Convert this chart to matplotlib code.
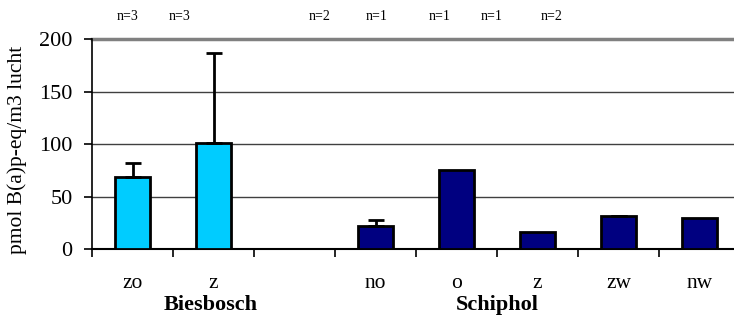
import matplotlib
matplotlib.use("Agg")
import matplotlib.pyplot as plt
import numpy as np

categories = ["zo", "z", "", "no", "o", "z", "zw", "nw"]
values = [69, 101, np.nan, 22, 75, 16, 31.5, 30]
err_up = [13, 86, np.nan, 5.5, 0, 0, 0.4, 0]
colors_by_group = ["#00CCFF", "#00CCFF", "#00CCFF", "#000080", "#000080", "#000080", "#000080", "#000080"]
groups = ["Biesbosch", "Schiphol"]
group_pos = [0.97, 4.5]
n_labels = ["n=3", "n=3", "n=2", "n=1", "n=1", "n=1", "n=2"]
n_xpix = [128, 180, 320, 377, 440, 492, 552]
yticks = [0, 50, 100, 150, 200]

plt.rcParams['font.family'] = ['Liberation Serif', 'DejaVu Serif']

W, H = 734, 324
fig = plt.figure(figsize=(W/100, H/100), dpi=100)
left = 92 / W
right = 740 / W
bottom = (H - 249) / H
top = (H - 39.5) / H
ax = fig.add_axes([left, bottom, right - left, top - bottom])

x = np.arange(len(categories))
vals = np.array(values, dtype=float)
errs = np.array(err_up, dtype=float)
mask = ~np.isnan(vals)
ax.bar(x[mask], vals[mask], width=0.42, color=[colors_by_group[i] for i in x[mask]],
       edgecolor="black", linewidth=2, zorder=3)
emask = mask & (errs > 0)
ax.errorbar(x[emask], vals[emask], yerr=[np.zeros(emask.sum()), errs[emask]],
            fmt="none", ecolor="black", elinewidth=2, capsize=6, capthick=2, zorder=4)

ax.set_xlim(-0.5, len(categories) - 0.5)
ax.set_ylim(0, 200)
ax.set_yticks(yticks)
for yv in yticks[1:-1]:
    ax.axhline(yv, color="#404040", linewidth=1, zorder=1)
ax.axhline(200, color="#808080", linewidth=2.5, zorder=1, clip_on=False)

for s in ["top", "right"]:
    ax.spines[s].set_visible(False)
ax.spines["left"].set_linewidth(1.2)
ax.spines["bottom"].set_linewidth(1.5)

ax.set_xticks(np.arange(-0.5, len(categories), 1.0))
ax.set_xticklabels([])
ax.set_xticks(x, minor=True)
ax.set_xticklabels(categories, minor=True, fontsize=15.5)
ax.tick_params(axis="x", which="major", direction="out", length=6, width=1.2)
ax.tick_params(axis="x", which="minor", length=0, pad=18)
ax.tick_params(axis="y", direction="out", length=6, width=1.2, labelsize=16, pad=8)

for g, gp in zip(groups, group_pos):
    ax.text(gp, (H - 305) / H, g, transform=matplotlib.transforms.blended_transform_factory(ax.transData, fig.transFigure),
            ha="center", va="center", fontsize=16, fontweight="bold")

for lab, xp in zip(n_labels, n_xpix):
    fig.text(xp / W, 1 - 17 / H, lab, ha="center", va="center", fontsize=10)

fig.text(17 / W, 1 - 150 / H, "pmol B(a)p-eq/m3 lucht", rotation=90, ha="center", va="center", fontsize=15.5)

fig.savefig("out.png", dpi=100)
